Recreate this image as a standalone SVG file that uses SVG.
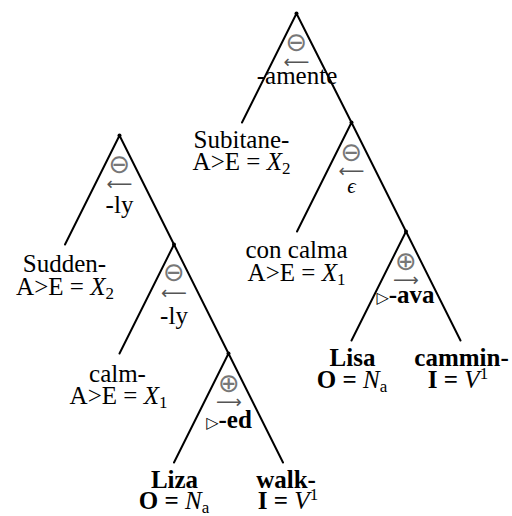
<svg xmlns="http://www.w3.org/2000/svg" width="512" height="516" viewBox="0 0 512 516" font-family="'Liberation Serif', 'Times New Roman', serif">
<style>
  .e { stroke: #000; stroke-width: 2; fill: none; stroke-linecap: round; }
  .dot { fill: #000; }
  text { font-family: "Liberation Serif", "Times New Roman", serif; font-size: 25px; fill: #000; text-anchor: middle; }
  .b { font-weight: bold; }
  .i { font-style: italic; }
  .sub { font-size: 17px; font-style: normal; }
  .sym { font-family: "DejaVu Sans", sans-serif; font-size: 26px; fill: #777; }
  .arr { font-family: "DejaVu Sans", sans-serif; font-size: 18px; fill: #555; }
  .tri { font-family: "DejaVu Sans", sans-serif; font-size: 16px; font-weight: normal; fill: #000; }
</style>
<rect width="512" height="516" fill="#fff"/>
<g id="connectors">
  <path class="e" d="M296.5 13.5 L242 122.5 M296.5 13.5 L351.5 122.5"/>
  <path class="e" d="M351.5 122.5 L297 231.5 M351.5 122.5 L406 231.5"/>
  <path class="e" d="M406 231.5 L351.5 340.5 M406 231.5 L460.5 340.5"/>
  <path class="e" d="M119.5 135.5 L65 244.5 M119.5 135.5 L174 244.5"/>
  <path class="e" d="M174 244.5 L119.5 353.5 M174 244.5 L228.5 353.5"/>
  <path class="e" d="M228.5 353.5 L174 462.5 M228.5 353.5 L283 462.5"/>
</g>
<g id="r1">
  <circle class="dot" cx="296.5" cy="13.5" r="2"/>
  <text class="sym" x="296.5" y="50.5">⊖</text>
  <text class="arr" x="296.5" y="67.5">⟵</text>
  <text x="297" y="83.5">-amente</text>
</g>
<g id="subitane">
  <text x="241.5" y="148">Subitane-</text>
  <text x="241.5" y="170">A&gt;E = <tspan class="i">X</tspan><tspan class="sub" dy="4">2</tspan></text>
</g>
<g id="r2">
  <circle class="dot" cx="351.5" cy="122.5" r="2"/>
  <text class="sym" x="351.5" y="160.5">⊖</text>
  <text class="arr" x="351.5" y="177">⟵</text>
  <text class="i" x="351.5" y="193" style="font-size:21px">ϵ</text>
</g>
<g id="concalma">
  <text x="296.5" y="258">con calma</text>
  <text x="296.5" y="281">A&gt;E = <tspan class="i">X</tspan><tspan class="sub" dy="4">1</tspan></text>
</g>
<g id="r3">
  <circle class="dot" cx="406" cy="231.5" r="2"/>
  <text class="sym" x="406" y="269.5">⊕</text>
  <text class="arr" x="406" y="286">⟶</text>
  <text class="b" x="405.5" y="303"><tspan class="tri">▷</tspan>-ava</text>
</g>
<g id="lisa">
  <text class="b" x="352.5" y="366">Lisa</text>
  <text x="352" y="388"><tspan class="b">O = </tspan><tspan class="i">N</tspan><tspan class="i sub" dy="4">a</tspan></text>
</g>
<g id="cammin">
  <text class="b" x="461.5" y="366">cammin-</text>
  <text x="458" y="388"><tspan class="b">I = </tspan><tspan class="i">V</tspan><tspan class="sub" dy="-9">1</tspan></text>
</g>
<g id="l1">
  <circle class="dot" cx="119.5" cy="135.5" r="2"/>
  <text class="sym" x="119.5" y="172.5">⊖</text>
  <text class="arr" x="119.5" y="189.5">⟵</text>
  <text x="119.5" y="213">-ly</text>
</g>
<g id="sudden">
  <text x="64.5" y="272">Sudden-</text>
  <text x="65" y="294.5">A&gt;E = <tspan class="i">X</tspan><tspan class="sub" dy="4">2</tspan></text>
</g>
<g id="l2">
  <circle class="dot" cx="174" cy="244.5" r="2"/>
  <text class="sym" x="174" y="281">⊖</text>
  <text class="arr" x="174" y="298.5">⟵</text>
  <text x="174" y="323.5">-ly</text>
</g>
<g id="calm">
  <text x="117.5" y="382">calm-</text>
  <text x="118.5" y="403.5">A&gt;E = <tspan class="i">X</tspan><tspan class="sub" dy="4">1</tspan></text>
</g>
<g id="l3">
  <circle class="dot" cx="228.5" cy="353.5" r="2"/>
  <text class="sym" x="229" y="391.5">⊕</text>
  <text class="arr" x="229" y="408">⟶</text>
  <text class="b" x="229" y="428"><tspan class="tri">▷</tspan>-ed</text>
</g>
<g id="liza">
  <text class="b" x="174.5" y="488">Liza</text>
  <text x="174" y="509"><tspan class="b">O = </tspan><tspan class="i">N</tspan><tspan class="i sub" dy="4">a</tspan></text>
</g>
<g id="walk">
  <text class="b" x="286" y="488">walk-</text>
  <text x="288" y="509"><tspan class="b">I = </tspan><tspan class="i">V</tspan><tspan class="sub" dy="-9">1</tspan></text>
</g>
</svg>
